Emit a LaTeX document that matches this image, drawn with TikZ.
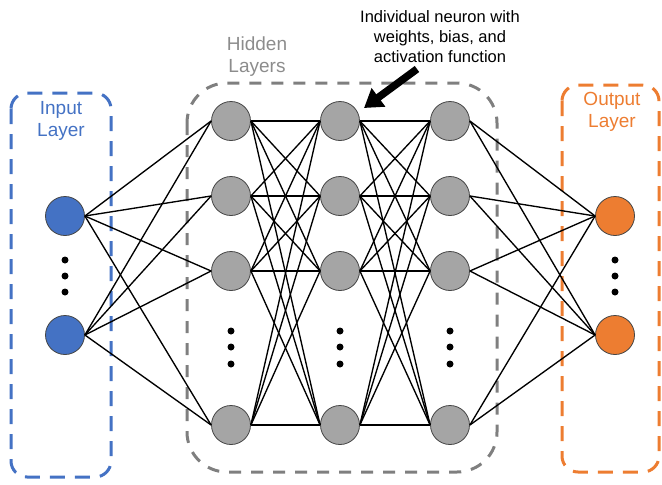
\documentclass[tikz,border=0pt]{standalone}
\usepackage{fontspec}
\setmainfont{Liberation Sans}
\usetikzlibrary{arrows.meta}

\definecolor{inblue}{HTML}{4472C4}
\definecolor{outorange}{HTML}{ED7D31}
\definecolor{hidgray}{HTML}{A5A5A5}
\definecolor{boxgray}{HTML}{7F7F7F}
\definecolor{labelgray}{HTML}{8C8C8C}
\definecolor{rimgray}{HTML}{454545}

\begin{document}
\begin{tikzpicture}[x=1pt,y=-1pt,
  neuron/.style={circle, draw=rimgray, line width=0.8pt, minimum size=39pt, inner sep=0pt},
  innode/.style={neuron, fill=inblue},
  hidnode/.style={neuron, fill=hidgray},
  outnode/.style={neuron, fill=outorange},
  link/.style={line width=1.35pt, black},
  dotmark/.style={circle, fill=black, inner sep=0pt, minimum size=7pt},
  inbox/.style={draw=inblue, line width=3pt, dash pattern=on 15pt off 10pt, rounded corners=16pt},
  outbox/.style={draw=outorange, line width=3pt, dash pattern=on 15pt off 10pt, rounded corners=16pt},
  hidbox/.style={draw=boxgray, line width=3pt, dash pattern=on 12pt off 10pt, rounded corners=40pt},
  layerlabel/.style={align=center, font=\fontsize{19}{22}\selectfont, inner sep=0pt},
  notelabel/.style={align=center, font=\fontsize{16.5}{20}\selectfont, inner sep=0pt},
  pointer/.style={line width=7.5pt, black, -{Triangle[length=18pt,width=22pt]}}
]
\useasboundingbox (0,0) rectangle (662,485);

% layer frames
\draw[inbox] (11,93) rectangle (111,477);
\draw[hidbox] (187,83) rectangle (497,472);
\draw[outbox] (562,85) rectangle (659,472);

% frame labels
\node[layerlabel, text=inblue] (inlabel) at (61,121) {Input\\Layer};
\node[layerlabel, text=labelgray] (hidlabel) at (257,57) {Hidden\\Layers};
\node[layerlabel, text=outorange] (outlabel) at (612,112) {Output\\Layer};

% input neurons
\node[innode] (i1) at (65,216) {};
\node[innode] (i2) at (65,335) {};

% hidden neurons, three columns of four
\foreach \c/\x in {1/231,2/340,3/450}{
  \foreach \r/\y in {1/121,2/196,3/271,4/425}{
    \node[hidnode] (h\c\r) at (\x,\y) {};
  }
}

% output neurons
\node[outnode] (o1) at (615,216) {};
\node[outnode] (o2) at (615,335) {};

% ellipsis marks
\foreach \x in {65,615}{
  \foreach \y in {260,276,292}{
    \node[dotmark] at (\x,\y) {};
  }
}
\foreach \x in {231,340,450}{
  \foreach \y in {331,347,364}{
    \node[dotmark] at (\x,\y) {};
  }
}

% connections
\foreach \a in {1,2}{
  \foreach \b in {1,...,4}{
    \draw[link] (i\a.east) -- (h1\b.west);
    \draw[link] (h3\b.east) -- (o\a.west);
  }
}
\foreach \a in {1,...,4}{
  \foreach \b in {1,...,4}{
    \draw[link] (h1\a.east) -- (h2\b.west);
    \draw[link] (h2\a.east) -- (h3\b.west);
  }
}

% annotation
\node[notelabel] (note) at (440,37) {Individual neuron with\\weights, bias, and\\activation function};
\coordinate (tail) at (417,69);
\coordinate (tip) at (364,108);
\draw[pointer] (tail) -- (tip);
\end{tikzpicture}
\end{document}
